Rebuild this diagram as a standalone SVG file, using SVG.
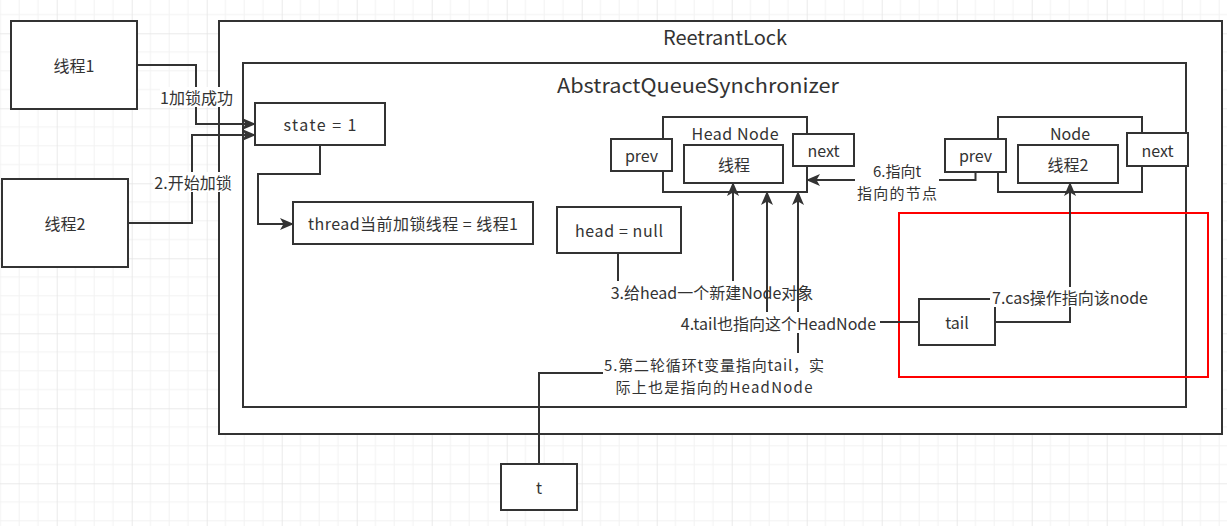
<svg xmlns="http://www.w3.org/2000/svg" width="1227" height="526" viewBox="0 0 1227 526">
<defs>
<pattern id="grid" width="75" height="75" patternUnits="userSpaceOnUse" x="-18.3" y="-41.7">
<path d="M18.75 0V75M37.5 0V75M56.25 0V75M0 18.75H75M0 37.5H75M0 56.25H75" stroke="#f2f2f2" stroke-width="1" fill="none"/>
<path d="M0 0V75M0 0H75" stroke="#e4e4e4" stroke-width="1.5" fill="none"/>
</pattern>
<marker id="arr" markerWidth="14" markerHeight="12" refX="13" refY="6" orient="auto" markerUnits="userSpaceOnUse">
<path d="M0,0 L14,6 L0,12 L3.5,6 Z" fill="#333"/>
</marker>
</defs>
<style>
.box{fill:#fff;stroke:#333;stroke-width:2}
.t{font-family:"Noto Sans CJK SC","Microsoft YaHei",sans-serif;font-size:16px;fill:#333;text-anchor:middle;dominant-baseline:central}
.big{font-size:20px}
.sm{font-size:15px}
.e{fill:none;stroke:#333;stroke-width:2}
.lb{fill:#fff}
</style>
<rect width="1227" height="526" fill="#fff"/>
<rect width="1227" height="526" fill="url(#grid)"/>

<g id="thread1"><rect class="box" x="11" y="21" width="126" height="88"/><text class="t" x="74" y="65">线程1</text></g>
<g id="thread2"><rect class="box" x="2" y="179" width="126" height="88"/><text class="t" x="65" y="223">线程2</text></g>
<g id="reetrantLock"><rect class="box" x="219" y="21" width="1003" height="413"/><text class="t big" x="725" y="36">ReetrantLock</text></g>
<g id="aqs"><rect class="box" x="243" y="63" width="943" height="344"/><text class="t big" x="698" y="84" textLength="282" lengthAdjust="spacingAndGlyphs">AbstractQueueSynchronizer</text></g>
<g id="state"><rect class="box" x="255" y="103" width="130" height="42"/><text class="t" x="320" y="124" textLength="73" lengthAdjust="spacing">state = 1</text></g>
<g id="ownerThread"><rect class="box" x="293" y="202" width="240" height="42"/><text class="t" x="413" y="223" textLength="210" lengthAdjust="spacing">thread当前加锁线程 = 线程1</text></g>
<g id="headNull"><rect class="box" x="557" y="207" width="124" height="46"/><text class="t" x="619" y="230" textLength="88" lengthAdjust="spacing">head = null</text></g>
<g id="headNode">
<rect class="box" x="663" y="117" width="144" height="75"/><text class="t" x="735" y="133" textLength="87" lengthAdjust="spacing">Head Node</text>
<rect class="box" x="684" y="145" width="99" height="38"/><text class="t" x="734" y="164">线程</text>
</g>
<g id="headPrev"><rect class="box" x="611" y="139" width="61" height="32"/><text class="t" x="641.5" y="155">prev</text></g>
<g id="headNext"><rect class="box" x="793" y="134" width="61" height="32"/><text class="t" x="823.5" y="150">next</text></g>
<g id="node">
<rect class="box" x="998" y="117" width="144" height="75"/><text class="t" x="1070" y="133">Node</text>
<rect class="box" x="1018" y="145" width="100" height="38"/><text class="t" x="1068" y="164">线程2</text>
</g>
<g id="nodePrev"><rect class="box" x="945" y="139" width="61" height="33"/><text class="t" x="975.5" y="155">prev</text></g>
<g id="nodeNext"><rect class="box" x="1127" y="133" width="61" height="33"/><text class="t" x="1157.5" y="150">next</text></g>
<g id="highlight"><rect x="899" y="213" width="309" height="164" fill="none" stroke="#f00" stroke-width="2"/></g>
<g id="tail"><rect class="box" x="919" y="299" width="76" height="46"/><text class="t" x="957" y="322">tail</text></g>
<g id="t"><rect class="box" x="501" y="464" width="76" height="46"/><text class="t" x="539" y="487">t</text></g>

<g id="connectors">
<path class="e" d="M137,65H196V124H255" marker-end="url(#arr)"/>
<rect class="lb" x="160" y="87" width="73" height="20"/><text class="t" x="196.5" y="97">1加锁成功</text>
<path class="e" d="M128,223H192V135H255" marker-end="url(#arr)"/>
<rect class="lb" x="153" y="172" width="80" height="20"/><text class="t" x="193" y="182">2.开始加锁</text>
<path class="e" d="M320,145V174H258V224H293" marker-end="url(#arr)"/>
<path class="e" d="M618,253V292H733V183" marker-end="url(#arr)"/>
<rect class="lb" x="606" y="281" width="212" height="21"/><text class="t" x="712" y="292">3.给head一个新建Node对象</text>
<path class="e" d="M919,322H767V192" marker-end="url(#arr)"/>
<path class="e" d="M539,464V373H798V192" marker-end="url(#arr)"/>
<rect class="lb" x="677" y="312" width="203" height="21"/><text class="t" x="778.5" y="323">4.tail也指向这个HeadNode</text>
<rect class="lb" x="603" y="353" width="224" height="43"/>
<text class="t sm" x="714" y="364" textLength="220" lengthAdjust="spacing">5.第二轮循环t变量指向tail，实</text>
<text class="t sm" x="714" y="386" textLength="197" lengthAdjust="spacing">际上也是指向的HeadNode</text>
<path class="e" d="M975.5,172V180H807" marker-end="url(#arr)"/>
<rect class="lb" x="855" y="160" width="84" height="42"/>
<text class="t sm" x="897" y="170">6.指向t</text>
<text class="t sm" x="897" y="192" textLength="80" lengthAdjust="spacing">指向的节点</text>
<path class="e" d="M995,322H1070V183" marker-end="url(#arr)"/>
<rect class="lb" x="990" y="287" width="160" height="20"/><text class="t" x="1070" y="297">7.cas操作指向该node</text>
</g>
</svg>
